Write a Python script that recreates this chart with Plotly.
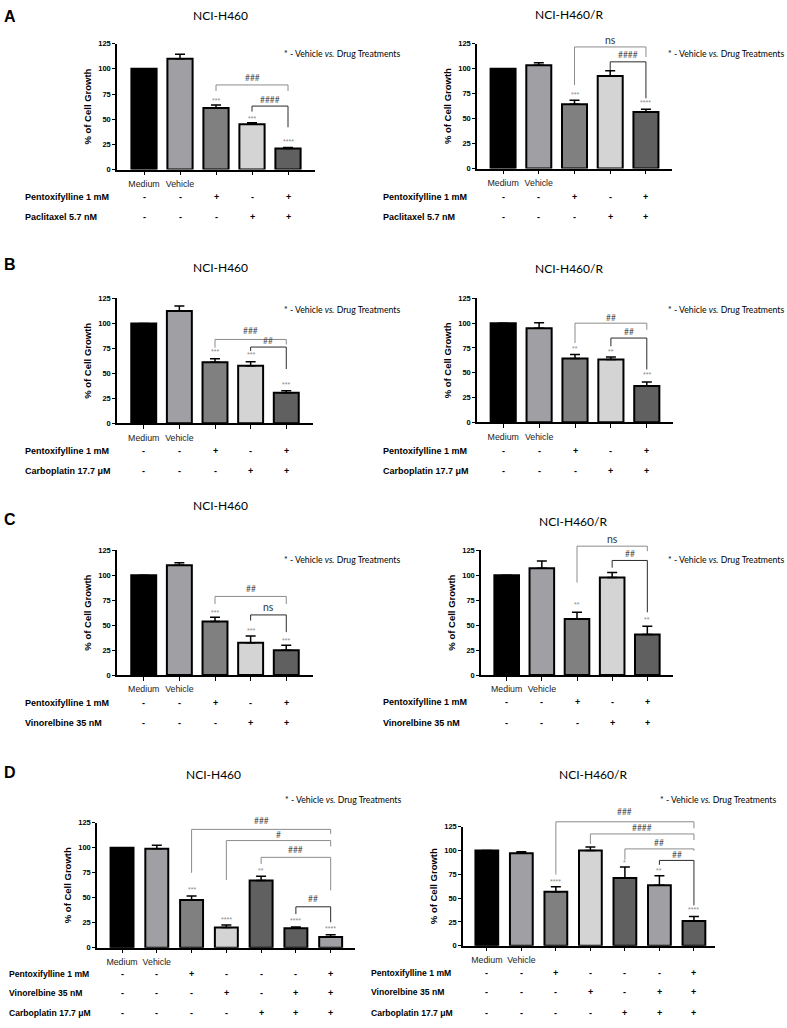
import plotly.graph_objects as go

W, H = 787, 1028
YMAX = 125

# ---------------- DATA ----------------
TICKS_5 = ["Medium", "Vehicle", "", "", ""]
TICKS_7 = ["Medium", "Vehicle", "", "", "", "", ""]
PENTOX_5 = ["-", "-", "+", "-", "+"]
DRUG_5 = ["-", "-", "-", "+", "+"]
PENTOX_7 = ["-", "-", "+", "-", "-", "-", "+"]
VINOR_7 = ["-", "-", "-", "+", "-", "+", "+"]
CARBO_7 = ["-", "-", "-", "-", "+", "+", "+"]

COLORS_5 = ["#000000", "#a0a0a4", "#808080", "#d4d4d4", "#606060"]
COLORS_7L = ["#000000", "#a0a0a4", "#808080", "#d4d4d4", "#606060", "#5f5f5f", "#a0a0a4"]
COLORS_7R = ["#000000", "#a0a0a4", "#808080", "#d4d4d4", "#606060", "#a0a0a4", "#606060"]

A_L_vals = [100, 110, 61, 45, 21]
A_L_errs = [0, 4.5, 3, 1.5, 1]
A_L_stars = [(2, "***", 69), (3, "***", 51), (4, "****", 28)]
A_L_brackets = [(2, 4, 84, 78, 78, "###", 91, "outer"),
                (3, 4, 63, 57.6, 42, "####", 69, "inner")]

A_R_vals = [100, 103.5, 64.3, 92.5, 56.7]
A_R_errs = [0, 2.5, 4, 5.5, 2.7]
A_R_stars = [(2, "***", 74.6), (4, "****", 66)]
A_R_brackets = [(2, 4, 121.7, 83.6, 111.7, "ns", 128.3, "outer"),
                (3, 4, 106.8, 98.5, 70.3, "####", 113.4, "inner")]

B_L_vals = [100, 112.5, 61, 57.6, 30.6]
B_L_errs = [0, 5, 3.5, 4, 2]
B_L_stars = [(2, "***", 71.4), (3, "***", 68.4), (4, "***", 38.8)]
B_L_brackets = [(2, 4, 83.9, 75.7, 79, "###", 92, "outer"),
                (3, 4, 76.3, 72.4, 54.3, "##", 82.2, "inner")]

B_R_vals = [100, 95, 64.3, 63.3, 36.7]
B_R_errs = [0, 5.5, 4, 2.7, 4]
B_R_stars = [(2, "**", 74), (3, "**", 71.7), (4, "***", 48.3)]
B_R_brackets = [(2, 4, 100, 80, 93.3, "##", 105, "outer"),
                (3, 4, 85, 76.7, 53.3, "##", 90.7, "inner")]

C_L_vals = [100, 109.8, 53.6, 32.4, 24.8]
C_L_errs = [0, 2.6, 4.3, 6.6, 5]
C_L_stars = [(2, "***", 62.8), (3, "***", 44.6), (4, "***", 34.7)]
C_L_brackets = [(2, 4, 78.7, 71.1, 71.1, "##", 86.6, "outer"),
                (3, 4, 60.2, 54.6, 43, "ns", 67.8, "inner")]

C_R_vals = [100, 106.8, 56.2, 97.6, 40.7]
C_R_errs = [0, 7.3, 6.6, 5, 8.2]
C_R_stars = [(2, "**", 71), (4, "**", 55.6)]
C_R_brackets = [(2, 4, 129, 92.6, 124, "ns", 136.2, "outer"),
                (3, 4, 114.7, 107.5, 62.8, "##", 120.7, "inner")]

D_L_vals = [100, 99, 47.8, 20.1, 67.3, 19.5, 10.6]
D_L_errs = [0, 3.5, 4, 2.7, 4.3, 1.3, 2.3]
D_L_stars = [(2, "***", 58.4), (3, "****", 27.7), (4, "**", 77.5), (5, "****", 27), (6, "****", 18.8)]
D_L_brackets = [(2, 6, 118.4, 74.9, 113.8, "###", 126.6, "outer"),
                (3, 6, 107.2, 67.6, 101.3, "#", 112.8, "outer"),
                (4, 6, 90.4, 83.8, 57.4, "###", 97.3, "outer"),
                (5, 6, 40.9, 33.6, 25.4, "##", 48.5, "inner")]

D_R_vals = [100, 97.2, 56.6, 100, 71.2, 63.5, 26]
D_R_errs = [0, 1.4, 5.2, 3.8, 11.4, 10.1, 4.6]
D_R_stars = [(2, "****", 67.7), (4, "*", 87.5), (5, "**", 79.2), (6, "****", 38.2)]
D_R_brackets = [(2, 6, 130.2, 74.7, 123.3, "###", 140.6, "outer"),
                (3, 6, 117.4, 107, 111, "####", 123.3, "outer"),
                (4, 6, 101.7, 90.3, 99.7, "##", 107.6, "outer"),
                (5, 6, 89.6, 85, 42.4, "##", 95.5, "inner")]

ROW_PENTOX = "Pentoxifylline 1 mM"
ROW_PACLI = "Paclitaxel 5.7 nM"
ROW_CARBO = "Carboplatin 17.7 μM"
ROW_VINOR = "Vinorelbine 35 nM"
TITLE_S = "NCI-H460"
TITLE_R = "NCI-H460/R"
NOTE = "* - Vehicle <i>vs.</i> Drug Treatments"

# ---------------- LAYOUT SPECS (pixels) ----------------
panels = [
    dict(vals=A_L_vals, errs=A_L_errs, colors=COLORS_5, ticks=TICKS_5, stars=A_L_stars, brackets=A_L_brackets,
         rows=[(ROW_PENTOX, PENTOX_5), (ROW_PACLI, DRUG_5)], title=TITLE_S,
         box=(117, 315, 40, 167), xr=(-0.75, 4.75), bw=0.7, title_pos=(220, 12), note_pos=(282, 50),
         rows_y=(195, 215), label_x=23, label_size=9, letter=("A", 10, 13)),
    dict(vals=A_R_vals, errs=A_R_errs, colors=COLORS_5, ticks=TICKS_5, stars=A_R_stars, brackets=A_R_brackets,
         rows=[(ROW_PENTOX, PENTOX_5), (ROW_PACLI, DRUG_5)], title=TITLE_R,
         box=(477, 672, 40, 166), xr=(-0.73, 4.73), bw=0.7, title_pos=(569, 11), note_pos=(666, 50),
         rows_y=(195, 215), label_x=381, label_size=9, letter=None),
    dict(vals=B_L_vals, errs=B_L_errs, colors=COLORS_5, ticks=TICKS_5, stars=B_L_stars, brackets=B_L_brackets,
         rows=[(ROW_PENTOX, PENTOX_5), (ROW_CARBO, DRUG_5)], title=TITLE_S,
         box=(117, 313, 297, 423), xr=(-0.75, 4.75), bw=0.7, title_pos=(220, 266), note_pos=(282, 308),
         rows_y=(451, 471), label_x=23, label_size=9, letter=("B", 10, 263)),
    dict(vals=B_R_vals, errs=B_R_errs, colors=COLORS_5, ticks=TICKS_5, stars=B_R_stars, brackets=B_R_brackets,
         rows=[(ROW_PENTOX, PENTOX_5), (ROW_CARBO, DRUG_5)], title=TITLE_R,
         box=(477, 673, 297, 422), xr=(-0.73, 4.73), bw=0.7, title_pos=(569, 267), note_pos=(666, 308),
         rows_y=(451, 471), label_x=381, label_size=9, letter=None),
    dict(vals=C_L_vals, errs=C_L_errs, colors=COLORS_5, ticks=TICKS_5, stars=C_L_stars, brackets=C_L_brackets,
         rows=[(ROW_PENTOX, PENTOX_5), (ROW_VINOR, DRUG_5)], title=TITLE_S,
         box=(117, 313, 551, 677), xr=(-0.75, 4.75), bw=0.7, title_pos=(220, 506), note_pos=(282, 560),
         rows_y=(705, 725), label_x=23, label_size=9, letter=("C", 10, 520)),
    dict(vals=C_R_vals, errs=C_R_errs, colors=COLORS_5, ticks=TICKS_5, stars=C_R_stars, brackets=C_R_brackets,
         rows=[(ROW_PENTOX, PENTOX_5), (ROW_VINOR, DRUG_5)], title=TITLE_R,
         box=(481, 673, 551, 677), xr=(-0.73, 4.73), bw=0.7, title_pos=(573, 522), note_pos=(666, 560),
         rows_y=(704, 725), label_x=381, label_size=9, letter=None),
    dict(vals=D_L_vals, errs=D_L_errs, colors=COLORS_7L, ticks=TICKS_7, stars=D_L_stars, brackets=D_L_brackets,
         rows=[(ROW_PENTOX, PENTOX_7), (ROW_VINOR, VINOR_7), (ROW_CARBO, CARBO_7)], title=TITLE_S,
         box=(97, 355, 826, 952), xr=(-0.72, 6.7), bw=0.66, title_pos=(213, 777), note_pos=(283, 803),
         rows_y=(979, 998, 1018), label_x=7, label_size=8.6, letter=("D", 10, 775)),
    dict(vals=D_R_vals, errs=D_R_errs, colors=COLORS_7R, ticks=TICKS_7, stars=D_R_stars, brackets=D_R_brackets,
         rows=[(ROW_PENTOX, PENTOX_7), (ROW_VINOR, VINOR_7), (ROW_CARBO, CARBO_7)], title=TITLE_R,
         box=(463, 715, 830, 950), xr=(-0.69, 6.61), bw=0.66, title_pos=(593, 777), note_pos=(658, 803),
         rows_y=(978, 997, 1018), label_x=369, label_size=8.6, letter=None),
]

ARIAL = "Liberation Sans, Arial, sans-serif"
CALIBRI = "Lato, Carlito, Calibri, sans-serif"
BRACKET_COL = {"outer": "#8c8c8c", "inner": "#2a2a2a"}


def fx(px):
    return px / W


def fy(py):
    return 1 - py / H


def yd(v):
    return v / YMAX


fig = go.Figure()
shapes = []
annotations = []
layout_axes = {}

for i, p in enumerate(panels, start=1):
    sfx = "" if i == 1 else str(i)
    xa, ya = "x" + sfx, "y" + sfx
    x0, x1, yt, yb = p["box"]
    n = len(p["vals"])
    fig.add_trace(go.Bar(
        x=list(range(n)), y=p["vals"], xaxis=xa, yaxis=ya, width=p["bw"],
        marker=dict(color=p["colors"], line=dict(color="black", width=2)),
        error_y=dict(type="data", symmetric=False, array=p["errs"], arrayminus=[0] * n,
                     color="black", thickness=1.5, width=5),
        showlegend=False, hoverinfo="skip",
    ))
    layout_axes["xaxis" + sfx] = dict(
        domain=[fx(x0), fx(x1)], anchor=ya, range=list(p["xr"]),
        tickmode="array", tickvals=list(range(n)), ticktext=p["ticks"],
        ticks="outside", ticklen=4, tickwidth=1.3, tickcolor="black",
        showline=True, linecolor="black", linewidth=1.5,
        showgrid=False, zeroline=False, fixedrange=True,
        tickfont=dict(family=ARIAL, size=8.8, color="#222222"),
        ticklabelstandoff=1,
    )
    layout_axes["yaxis" + sfx] = dict(
        domain=[fy(yb), fy(yt)], anchor=xa, range=[0, YMAX],
        tickmode="array", tickvals=[0, 25, 50, 75, 100, 125],
        ticks="outside", ticklen=3, tickwidth=1.3, tickcolor="black",
        showline=True, linecolor="black", linewidth=1.5,
        showgrid=False, zeroline=False, fixedrange=True,
        tickfont=dict(family=ARIAL, size=7.5, color="black", weight="bold"),
        title=dict(text="<b>% of Cell Growth</b>", font=dict(family=ARIAL, size=9.5, color="black"), standoff=5),
    )
    ydom = ya + " domain"
    # stars
    for (bi, txt, yv) in p["stars"]:
        annotations.append(dict(x=bi, y=yd(yv), xref=xa, yref=ydom, text=txt, showarrow=False,
                                font=dict(family=ARIAL, size=7, color="#8a8a8a"), yanchor="middle"))
    # brackets
    for (bl, br, top, le, re, lab, ly, kind) in p["brackets"]:
        col = BRACKET_COL[kind]
        for (ax0, ay0, ax1, ay1) in [(bl, top, br, top), (bl, le, bl, top), (br, re, br, top)]:
            shapes.append(dict(type="line", xref=xa, yref=ydom, x0=ax0, x1=ax1, y0=yd(ay0), y1=yd(ay1),
                               line=dict(color=col, width=1)))
        is_ns = lab == "ns"
        annotations.append(dict(x=(bl + br) / 2, y=yd(ly), xref=xa, yref=ydom, text=lab, showarrow=False,
                                font=dict(family=CALIBRI, size=10.5 if is_ns else 8.5,
                                          color="#333333" if is_ns else "#555555"),
                                yanchor="middle"))
    # rows of +/-
    for (label, signs), ry in zip(p["rows"], p["rows_y"]):
        annotations.append(dict(x=fx(p["label_x"]), y=fy(ry), xref="paper", yref="paper", text="<b>" + label + "</b>",
                                showarrow=False, xanchor="left", yanchor="middle",
                                font=dict(family=ARIAL, size=p["label_size"], color="black")))
        for bi, s in enumerate(signs):
            annotations.append(dict(x=bi, y=fy(ry), xref=xa, yref="paper", text="<b>" + s + "</b>",
                                    showarrow=False, yanchor="middle",
                                    font=dict(family=ARIAL, size=9, color="black")))
    # title
    tx, ty = p["title_pos"]
    annotations.append(dict(x=fx(tx), y=fy(ty), xref="paper", yref="paper", text=p["title"], showarrow=False,
                            xanchor="center", yanchor="middle", font=dict(family=CALIBRI, size=12, color="black")))
    # note
    nx, ny = p["note_pos"]
    annotations.append(dict(x=fx(nx), y=fy(ny), xref="paper", yref="paper", text=NOTE, showarrow=False,
                            xanchor="left", yanchor="middle", font=dict(family=CALIBRI, size=8.7, color="black")))
    # panel letter
    if p["letter"]:
        lt, lx, ly = p["letter"]
        annotations.append(dict(x=fx(lx), y=fy(ly), xref="paper", yref="paper", text="<b>" + lt + "</b>",
                                showarrow=False, xanchor="center", yanchor="middle",
                                font=dict(family=ARIAL, size=16, color="black")))

fig.update_layout(
    width=W, height=H, margin=dict(l=0, r=0, t=0, b=0),
    paper_bgcolor="white", plot_bgcolor="white",
    shapes=shapes, annotations=annotations, bargap=0.3,
    **layout_axes,
)

fig.write_html("out.html", config={"displayModeBar": False},
               post_script="document.body.style.margin='0';document.body.style.overflow='hidden';")
